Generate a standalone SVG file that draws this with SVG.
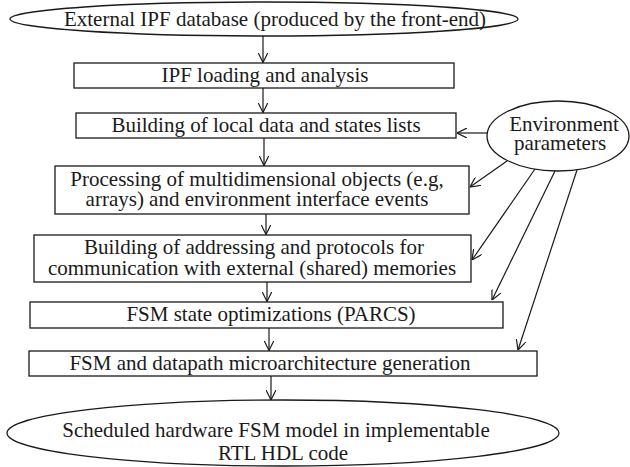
<svg xmlns="http://www.w3.org/2000/svg" width="630" height="467" viewBox="0 0 630 467">
  <style>
    .shape { fill: #ffffff; stroke: #1a1a1a; stroke-width: 1.3; }
    .label { font-family: "Liberation Serif", "Times New Roman", serif; font-size: 21px; fill: #1a1a1a; text-anchor: middle; }
    .edge { fill: none; stroke: #1a1a1a; stroke-width: 1.2; marker-end: url(#arrow); }
  </style>
  <defs>
    <marker id="arrow" viewBox="0 0 10 10" refX="10" refY="5" markerWidth="10" markerHeight="10" markerUnits="userSpaceOnUse" orient="auto">
      <path d="M0,0 L10,5 L0,10" fill="none" stroke="#1a1a1a" stroke-width="1.2"/>
    </marker>
  </defs>
  <rect width="630" height="467" fill="#ffffff"/>

  <!-- flow connectors -->
  <g id="connectors">
    <line class="edge" x1="263" y1="36" x2="263" y2="62.5"/>
    <line class="edge" x1="263" y1="88" x2="263" y2="112.5"/>
    <line class="edge" x1="264" y1="138" x2="264" y2="165.5"/>
    <line class="edge" x1="266" y1="214" x2="266" y2="234.5"/>
    <line class="edge" x1="267" y1="282" x2="267" y2="301.5"/>
    <line class="edge" x1="269" y1="328" x2="269" y2="350.5"/>
    <line class="edge" x1="271" y1="376" x2="271" y2="400"/>
    <!-- environment parameter feeds -->
    <line class="edge" x1="487" y1="133" x2="457" y2="133"/>
    <line class="edge" x1="507" y1="161" x2="470" y2="187"/>
    <line class="edge" x1="535" y1="169" x2="472" y2="260"/>
    <line class="edge" x1="555" y1="171" x2="492" y2="300"/>
    <line class="edge" x1="577" y1="170" x2="518" y2="350"/>
  </g>

  <g id="ipf-database">
    <ellipse class="shape" cx="264" cy="19" rx="254" ry="17"/>
    <text class="label" x="275" y="26">External IPF database (produced by the front-end)</text>
  </g>

  <g id="ipf-loading">
    <rect class="shape" x="74" y="63" width="380" height="25"/>
    <text class="label" x="265" y="82">IPF loading and analysis</text>
  </g>

  <g id="local-data">
    <rect class="shape" x="76" y="113" width="380" height="25"/>
    <text class="label" x="266" y="132">Building of local data and states lists</text>
  </g>

  <g id="environment">
    <ellipse class="shape" cx="558" cy="136" rx="71" ry="35"/>
    <text class="label" x="564" y="131">Environment</text>
    <text class="label" x="560" y="150">parameters</text>
  </g>

  <g id="multidim-objects">
    <rect class="shape" x="55" y="166" width="414" height="48"/>
    <text class="label" x="257" y="186">Processing of multidimensional objects (e.g,</text>
    <text class="label" x="257" y="206">arrays) and environment interface events</text>
  </g>

  <g id="addressing">
    <rect class="shape" x="34" y="235" width="437" height="47"/>
    <text class="label" x="254" y="254">Building of addressing and protocols for</text>
    <text class="label" x="252" y="275">communication with external (shared) memories</text>
  </g>

  <g id="state-optimizations">
    <rect class="shape" x="30" y="302" width="473" height="26"/>
    <text class="label" x="271" y="321">FSM state optimizations (PARCS)</text>
  </g>

  <g id="microarchitecture">
    <rect class="shape" x="29" y="351" width="508" height="25"/>
    <text class="label" x="270" y="370">FSM and datapath microarchitecture generation</text>
  </g>

  <g id="rtl-model">
    <ellipse class="shape" cx="283" cy="433" rx="276" ry="33"/>
    <text class="label" x="276" y="437">Scheduled hardware FSM model in implementable</text>
    <text class="label" x="283" y="460">RTL HDL code</text>
  </g>
</svg>
